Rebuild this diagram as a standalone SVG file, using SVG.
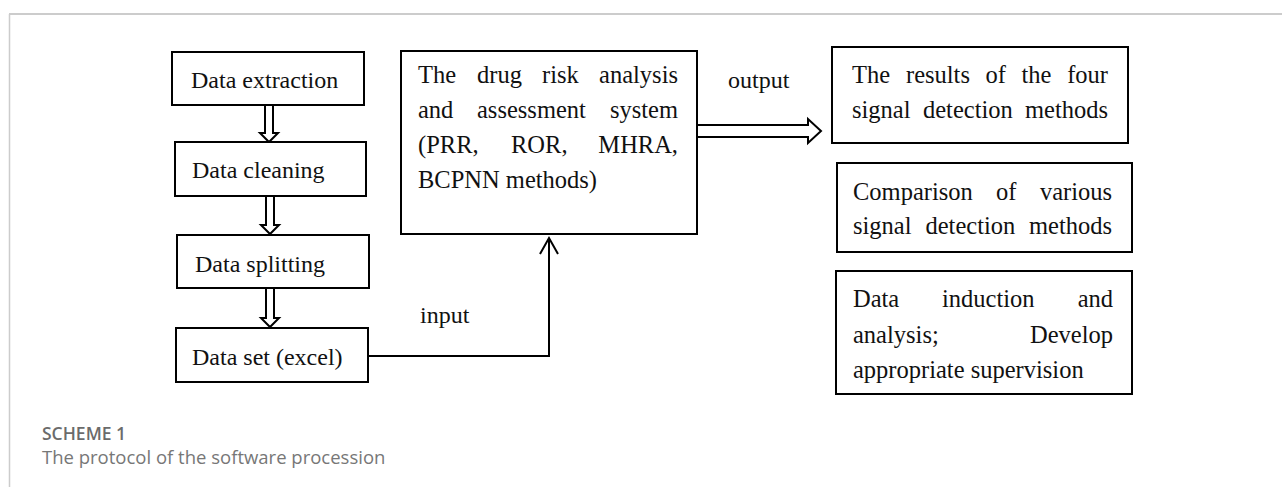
<svg xmlns="http://www.w3.org/2000/svg" width="1282" height="487" viewBox="0 0 1282 487">
<style>
.box{fill:#fff;stroke:#000;stroke-width:2}
.t{font-family:"Liberation Serif","Times New Roman",serif;font-size:24.5px;fill:#111}
.tl{font-family:"Liberation Serif","Times New Roman",serif;font-size:24px;fill:#111}
.c{fill:none;stroke:#000;stroke-width:2}
.h{fill:#fff;stroke:#000;stroke-width:2;stroke-linejoin:miter}
.cap1{font-family:"Open Sans",Lato,sans-serif;font-size:17.5px;font-weight:600;fill:#6b6b6b}
.cap2{font-family:"Open Sans",Lato,sans-serif;font-size:18.5px;fill:#777}
</style>
<rect width="1282" height="487" fill="#fff"/>
<g id="frame">
<line x1="9" y1="14" x2="1282" y2="14" stroke="#cccccc" stroke-width="2"/>
<line x1="9.5" y1="14" x2="9.5" y2="487" stroke="#cccccc" stroke-width="1.5"/>
</g>
<g id="connectors">
<path class="h" d="M265,105 V133 H260 L269,142 L278,133 H273 V105"/>
<path class="h" d="M266,196 V225 H261 L270,234 L279,225 H274 V196"/>
<path class="h" d="M266,288 V318 H261 L270,327 L279,318 H274 V288"/>
<path class="h" d="M697,125 H808 V119 L821,131 L808,143 V137 H697"/>
<path class="c" d="M368,356 H549 V238"/>
<path class="c" d="M540,254 L549,238 L558,254"/>
<text class="tl" x="728" y="88">output</text>
<text class="tl" x="420" y="323">input</text>
</g>
<g id="n-extraction">
<rect class="box" x="172" y="52" width="192" height="53"/>
<text class="tl" x="191" y="88">Data extraction</text>
</g>
<g id="n-cleaning">
<rect class="box" x="175" y="142" width="191" height="54"/>
<text class="tl" x="192" y="178">Data cleaning</text>
</g>
<g id="n-splitting">
<rect class="box" x="177" y="235" width="192" height="53"/>
<text class="tl" x="195" y="272">Data splitting</text>
</g>
<g id="n-dataset">
<rect class="box" x="176" y="328" width="192" height="54"/>
<text class="tl" x="192" y="365">Data set (excel)</text>
</g>
<g id="n-system">
<rect class="box" x="401" y="51" width="296" height="183"/>
<text class="t" y="83"><tspan x="418">The</tspan><tspan x="477">drug</tspan><tspan x="542">risk</tspan><tspan x="678" text-anchor="end">analysis</tspan></text>
<text class="t" y="118"><tspan x="418">and</tspan><tspan x="477">assessment</tspan><tspan x="678" text-anchor="end">system</tspan></text>
<text class="t" y="153"><tspan x="418">(PRR,</tspan><tspan x="511">ROR,</tspan><tspan x="678" text-anchor="end">MHRA,</tspan></text>
<text class="t" x="418" y="188">BCPNN methods)</text>
</g>
<g id="n-results">
<rect class="box" x="832" y="47" width="296" height="96"/>
<text class="t" y="83"><tspan x="852">The</tspan><tspan x="906">results</tspan><tspan x="985.5">of</tspan><tspan x="1021.5">the</tspan><tspan x="1108" text-anchor="end">four</tspan></text>
<text class="t" y="118"><tspan x="852">signal</tspan><tspan x="923">detection</tspan><tspan x="1108" text-anchor="end">methods</tspan></text>
</g>
<g id="n-comparison">
<rect class="box" x="837" y="163" width="295" height="89"/>
<text class="t" y="200"><tspan x="853">Comparison</tspan><tspan x="996">of</tspan><tspan x="1112" text-anchor="end">various</tspan></text>
<text class="t" y="234"><tspan x="853">signal</tspan><tspan x="925.5">detection</tspan><tspan x="1112" text-anchor="end">methods</tspan></text>
</g>
<g id="n-induction">
<rect class="box" x="836" y="271" width="296" height="123"/>
<text class="t" y="307"><tspan x="853">Data</tspan><tspan x="942">induction</tspan><tspan x="1113" text-anchor="end">and</tspan></text>
<text class="t" y="343"><tspan x="853">analysis;</tspan><tspan x="1113" text-anchor="end">Develop</tspan></text>
<text class="t" x="853" y="378">appropriate supervision</text>
</g>
<g id="caption">
<text class="cap1" x="42" y="440">SCHEME 1</text>
<text class="cap2" x="42" y="464">The protocol of the software procession</text>
</g>
</svg>
